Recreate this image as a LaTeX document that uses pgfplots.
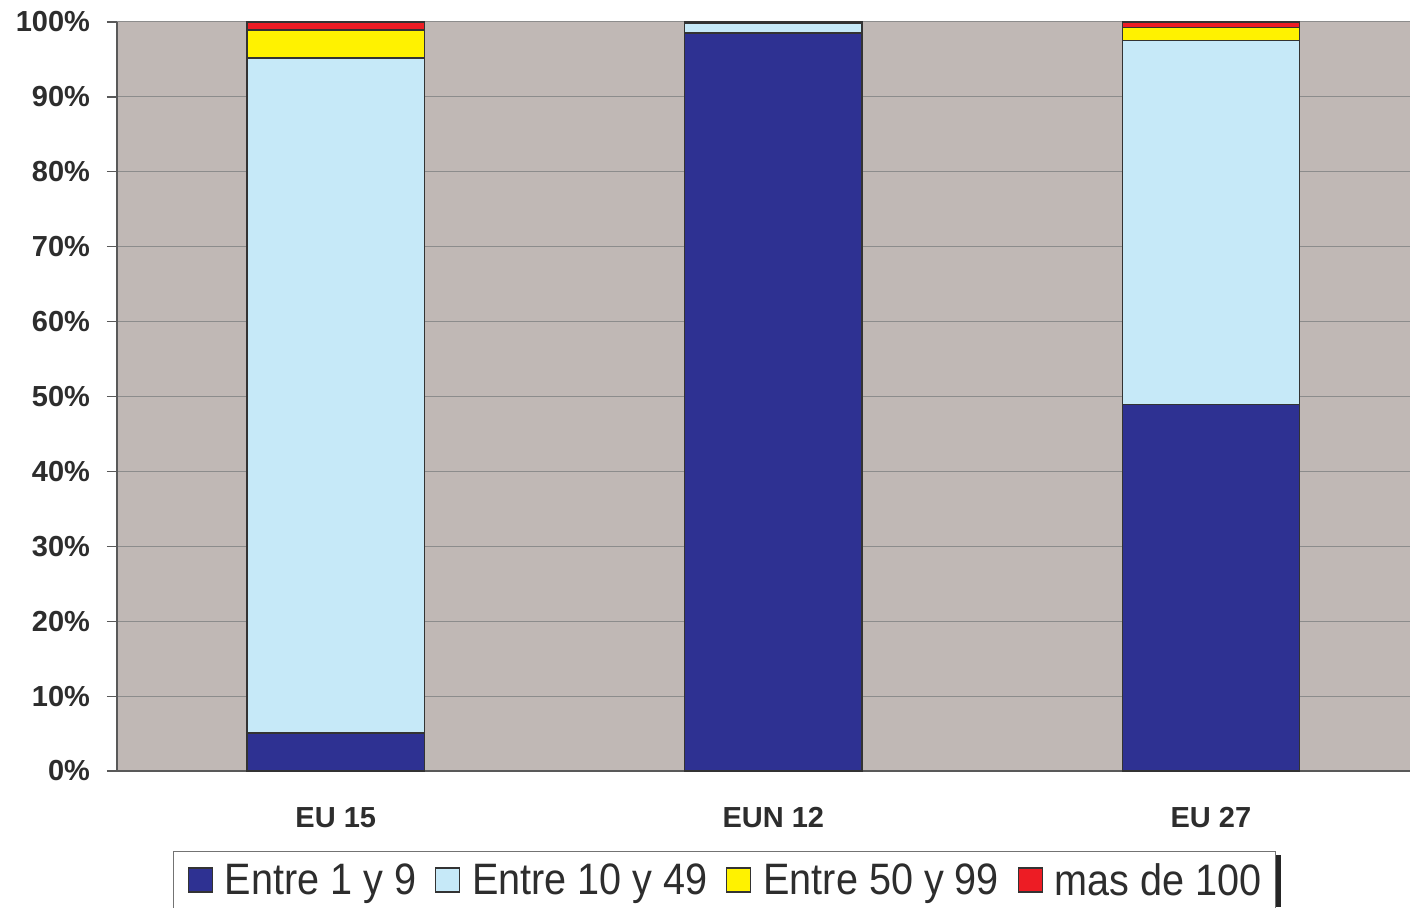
\documentclass[border=0pt]{standalone}
\usepackage{pgfplots}
\pgfplotsset{compat=1.18}
\usepackage{fontspec}
\setmainfont{Liberation Sans}
\newfontfamily\legfont[FakeStretch=0.9]{Liberation Sans}
\definecolor{bg}{RGB}{192,184,181}
\definecolor{c1}{RGB}{46,49,146}
\definecolor{c2}{RGB}{198,233,248}
\definecolor{c3}{RGB}{255,242,0}
\definecolor{c4}{RGB}{237,28,36}
\definecolor{txt}{RGB}{45,45,45}
\begin{document}
\begin{tikzpicture}
\path[use as bounding box] (0,0) rectangle (705pt,453.5pt);
\clip (0,0) rectangle (705pt,453.5pt);
\begin{axis}[
  at={(58.5pt,68pt)}, anchor=south west,
  scale only axis, width=646.5pt, height=374.5pt,
  ybar stacked, bar width=0.405,
  xmin=-0.5, xmax=2.455, ymin=0, ymax=100,
  axis background/.style={fill=bg},
  axis x line*=bottom, axis y line*=left,
  axis line style={draw=black!65, line width=0.8pt},
  ymajorgrids, grid style={draw=black!45, line width=0.5pt},
  ytick={0,10,...,100},
  /pgf/number format/assume math mode=true,
  yticklabel={\pgfmathprintnumber{\tick}\%},
  yticklabel style={font=\fontsize{14.5}{16}\selectfont\bfseries, text=txt, xshift=-5pt},
  xtick={0,1,2}, xticklabels={EU 15, EUN 12, EU 27},
  xticklabel style={font=\fontsize{14.5}{16}\selectfont\bfseries, text=txt, yshift=-9.5pt},
  major x tick style={draw=none},
  extra x ticks={-0.5,0.5,1.5}, extra x tick labels={},
  extra x tick style={grid=none, major tick length=5pt, tick style={draw=black!65, line width=0.6pt}},
  tick align=outside, major tick length=5pt,
  y tick style={draw=black!65, line width=0.6pt},
  every axis plot/.append style={draw=black!80, line width=0.75pt},
  legend columns=4,
  legend style={at={(axis description cs:0.0433,-0.1068)}, anchor=north west,
    draw=black!55, line width=0.6pt, fill=white,
    font=\legfont\fontsize{22}{24}\selectfont, text=txt,
    inner xsep=7pt, inner ysep=6pt,
    nodes={inner sep=0pt},
    /tikz/every odd column/.append style={column sep=6pt},
    /tikz/every even column/.append style={column sep=9.3pt}},
  legend image code/.code={\draw[#1, draw=black!80, line width=0.6pt] (0pt,-5.5pt) rectangle (12pt,6.5pt);},
]
\addplot[fill=c1] coordinates {(0,5.07) (1,98.5) (2,48.9)};
\addplot[fill=c2] coordinates {(0,90.12) (1,1.3) (2,48.6)};
\addplot[fill=c3] coordinates {(0,3.74) (1,0.15) (2,1.74)};
\addplot[fill=c4] coordinates {(0,1.07) (1,0.05) (2,0.76)};
\legend{Entre 1 y 9, Entre 10 y 49, Entre 50 y 99, mas de 100}
\end{axis}
\fill[black!85] (638pt,0pt) rectangle (640.5pt,26pt);
\end{tikzpicture}
\end{document}
